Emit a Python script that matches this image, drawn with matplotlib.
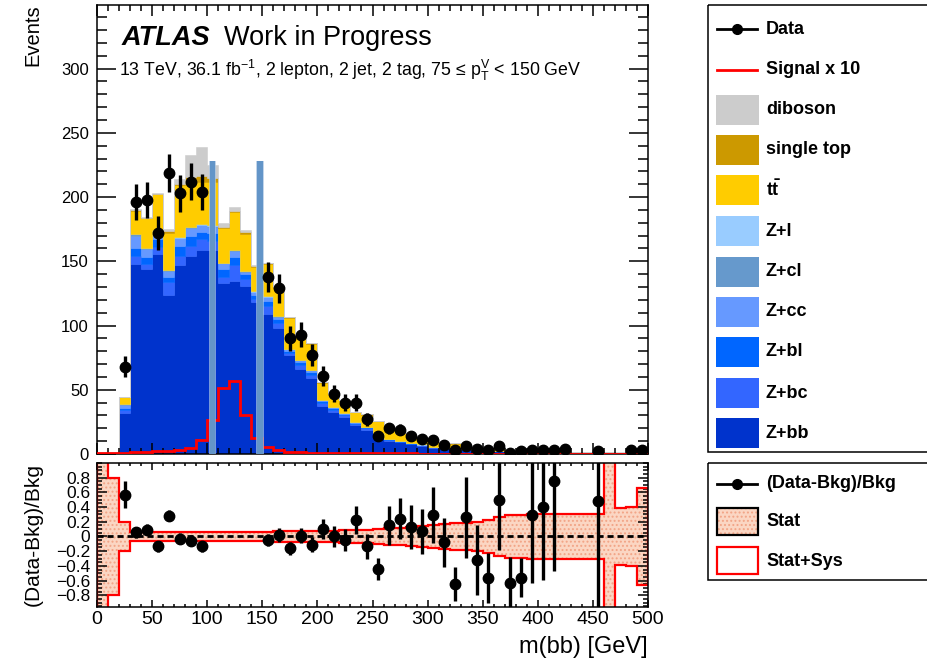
import numpy as np
import matplotlib
matplotlib.use("Agg")
import matplotlib.pyplot as plt
from matplotlib.patches import Rectangle
from matplotlib.ticker import MultipleLocator, FixedLocator, FuncFormatter

plt.rcParams['font.family'] = ['Liberation Sans', 'DejaVu Sans']
plt.rcParams['mathtext.fontset'] = 'custom'
plt.rcParams['mathtext.rm'] = 'Liberation Sans'
plt.rcParams['mathtext.bf'] = 'Liberation Sans:bold'
plt.rcParams['mathtext.it'] = 'Liberation Sans:italic'
plt.rcParams['hatch.linewidth'] = 0.9

nan = np.nan

# m(bb) binning: 10 GeV bins from 0 to 500 GeV
edges = np.arange(0, 501, 10)
centers = edges[:-1] + 5

# observed events per bin (blinded 100-150 GeV)
data = [nan, nan, 68, 196, 198, 172, 219, 203, 212, 204,
        nan, nan, nan, nan, nan, 138, 129, 90, 93, 77,
        61, 47, 40, 40, 27, 14, 20, 19, 14, 12,
        11, 7, 3, 6, 4, 3, 6, 1, 2, 3,
        3, 3, 4, nan, nan, 2, nan, nan, 3, 3]

# background predictions, stacked bottom to top
zbb = [0, 0.5, 32, 148, 144, 156, 124, 147, 154, 159,
       159, 133, 135, 131, 118, 109, 98, 77, 66, 59,
       37, 33, 29, 22.5, 19, 14.5, 10.5, 9, 7.5, 6.5,
       5, 4.5, 4, 3.3, 3, 2.6, 2.3, 1.6, 1.4, 1.3,
       1.2, 1.0, 0.9, 0.8, 0.7, 0.6, 0.5, 0.5, 0.4, 0.4]
zbc = [0, 0, 2, 6.5, 4, 5, 9.5, 7, 8, 8,
       7, 5, 12, 5, 3, 6, 4, 2, 3, 2.5,
       2.5, 1.5, 1.3, 1, 1, 0.8, 0.6, 0.5, 0.4, 0.3,
       0.3, 0.2, 0.2, 0.2, 0.2, 0.15, 0.15, 0.1, 0.1, 0.1,
       0.1, 0.1, 0.05, 0.05, 0.05, 0.05, 0.05, 0.05, 0.05, 0.05]
zbl = [0, 0, 2, 5.5, 5, 6, 4, 8, 8, 6,
       6, 6, 6, 4, 3, 4, 3, 1.5, 2.5, 2,
       1.5, 1, 1, 0.8, 0.7, 0.5, 0.4, 0.4, 0.3, 0.3,
       0.2, 0.2, 0.2, 0.1, 0.1, 0.1, 0.1, 0.1, 0.05, 0.05,
       0.05, 0.05, 0.05, 0.05, 0.05, 0.05, 0.05, 0.05, 0.05, 0.05]
zcc = [0, 0, 2.5, 10, 6.5, 6, 5, 6, 6, 5,
       5, 4.5, 5, 2, 2, 3, 2, 1, 1.5, 1.5,
       1, 0.8, 0.6, 0.5, 0.5, 0.4, 0.3, 0.3, 0.2, 0.2,
       0.2, 0.1, 0.1, 0.1, 0.1, 0.1, 0.05, 0.05, 0.05, 0.05,
       0.05, 0.05, 0.05, 0.05, 0.05, 0.05, 0.05, 0.05, 0.05, 0.05]
zcl = [0, 0, 0.3, 1, 0.5, 0.5, 0.5, 0.5, 0.5, 0.5,
       0.5, 0.3, 0.5, 0.3, 0.3, 0.5, 0.3, 0.3, 0.3, 0.3,
       0.2, 0.2, 0.2, 0.1, 0.1, 0.1, 0.1, 0.1, 0.05, 0.05,
       0.05, 0.05, 0.05, 0.05, 0.05, 0.05, 0.05, 0, 0, 0,
       0, 0, 0, 0, 0, 0, 0, 0, 0, 0]
zl = [0, 0, 0.2, 0.5, 0.5, 0.5, 0.3, 0.5, 0.5, 0.5,
      0.5, 0.2, 0.5, 0.2, 0.2, 0.3, 0.2, 0.2, 0.2, 0.2,
      0.1, 0.1, 0.1, 0.1, 0.05, 0.05, 0.05, 0.05, 0.05, 0.05,
      0, 0, 0, 0, 0, 0, 0, 0, 0, 0,
      0, 0, 0, 0, 0, 0, 0, 0, 0, 0]
ttbar = [0, 0, 5, 18, 23, 28, 29, 40, 37, 33,
         34, 27, 29, 29, 19, 25, 22, 24, 18, 20,
         13, 10, 9.3, 7.6, 9.2, 9, 7, 6, 5, 4.5,
         3.5, 3, 3.5, 2.5, 2.3, 2.5, 2.5, 1.4, 1.3, 1.1,
         1.0, 0.9, 0.8, 0.7, 0.6, 0.6, 0.5, 0.4, 0.4, 0.3]
single_top = [0, 0, 0.3, 0.5, 0.5, 0.5, 1, 1, 2, 4.5,
              3, 1, 1, 1, 1, 0.7, 0.5, 0.5, 0.5, 0.7,
              0.4, 0.3, 0.4, 0.3, 0.3, 0.4, 0.3, 0.3, 0.3, 0.3,
              0.2, 0.2, 0.3, 0.2, 0.2, 0.2, 0.2, 0.1, 0.1, 0.1,
              0.1, 0.1, 0.1, 0.1, 0.1, 0.1, 0.1, 0.1, 0.1, 0.1]
diboson = [0, 0, 0.2, 0.5, 0.5, 0.5, 1.5, 4, 17, 22.5,
           10, 3, 3, 1.5, 1, 0.5, 0.5, 0.5, 0.3, 0.3,
           0.3, 0.2, 0.2, 0.1, 0.1, 0.2, 0.1, 0.1, 0.1, 0.1,
           0.05, 0.05, 0.05, 0.05, 0.05, 0.05, 0.05, 0.05, 0.05, 0.05,
           0.05, 0.05, 0.05, 0.05, 0.05, 0.05, 0.05, 0.05, 0.05, 0.05]

# signal scaled by 10
signal_x10 = [0.4, 0.5, 0.7, 1.2, 1.5, 2.0, 2.3, 3.0, 4.9, 11,
              26.5, 51, 56.5, 30.5, 12.2, 5.7, 3.0, 1.8, 1.3, 1.0,
              0.9, 0.8, 0.7, 0.6, 0.5, 0.5, 0.4, 0.4, 0.4, 0.3,
              0.3, 0.3, 0.3, 0.3, 0.3, 0.3, 0.3, 0.3, 0.3, 0.3,
              0.3, 0.3, 0.3, 0.3, 0.3, 0.3, 0.3, 0.3, 0.3, 0.3]

# mass-window markers
window_edges = [104.7, 147.9]
window_height = 228

# (Data-Bkg)/Bkg and its uncertainty
ratio = [nan, nan, 0.57, 0.06, 0.09, -0.13, 0.28, -0.03, -0.06, -0.13,
         nan, nan, nan, nan, nan, -0.05, 0.02, -0.16, 0.01, -0.11,
         0.10, 0.00, -0.05, 0.22, -0.13, -0.44, 0.15, 0.24, 0.13, 0.07,
         0.29, -0.08, -0.65, 0.26, -0.32, -0.57, 0.49, -0.63, -0.56, 0.29,
         0.40, 0.76, nan, nan, nan, 0.48, nan, nan, nan, nan]
ratio_err = [0, 0, 0.18, 0.075, 0.075, 0.075, 0.075, 0.075, 0.075, 0.075,
             0, 0, 0, 0, 0, 0.085, 0.09, 0.09, 0.105, 0.10,
             0.14, 0.146, 0.15, 0.19, 0.17, 0.15, 0.26, 0.28, 0.30, 0.31,
             0.38, 0.33, 0.23, 0.55, 0.47, 0.34, 0.68, 0.35, 0.27, 0.92,
             0.99, 1.23, 0, 0, 0, 1.5, 0, 0, 0, 0]

# relative background uncertainty bands
band_stat = [1.5, 0.80, 0.20, 0.06, 0.06, 0.06, 0.06, 0.06, 0.06, 0.06,
             0.06, 0.06, 0.06, 0.06, 0.06, 0.065, 0.07, 0.07, 0.07, 0.075,
             0.08, 0.08, 0.085, 0.09, 0.09, 0.10, 0.11, 0.12, 0.13, 0.14,
             0.16, 0.17, 0.18, 0.18, 0.20, 0.22, 0.26, 0.29, 0.29, 0.30,
             0.31, 0.31, 0.31, 0.31, 0.31, 0.31, 1.5, 0.39, 0.40, 0.66]
band_total = [1.5, 0.80, 0.20, 0.06, 0.06, 0.06, 0.06, 0.06, 0.06, 0.06,
              0.06, 0.06, 0.06, 0.06, 0.06, 0.065, 0.07, 0.07, 0.07, 0.075,
              0.08, 0.08, 0.085, 0.09, 0.09, 0.10, 0.11, 0.12, 0.13, 0.14,
              0.16, 0.17, 0.18, 0.18, 0.20, 0.22, 0.26, 0.29, 0.29, 0.30,
              0.31, 0.31, 0.31, 0.31, 0.31, 0.31, 1.5, 0.39, 0.40, 0.66]

stack = [
    ("Z+bb", zbb, "#0033cc"),
    ("Z+bc", zbc, "#3366ff"),
    ("Z+bl", zbl, "#0066ff"),
    ("Z+cc", zcc, "#6699ff"),
    ("Z+cl", zcl, "#6699cc"),
    ("Z+l", zl, "#99ccff"),
    (r"t$\mathbf{\bar{t}}$", ttbar, "#ffcc00"),
    ("single top", single_top, "#cc9900"),
    ("diboson", diboson, "#cccccc"),
]

W, H = 927, 660
fig = plt.figure(figsize=(W / 100, H / 100), dpi=100)


def px_box(left, top, right, bottom):
    return [left / W, 1 - bottom / H, (right - left) / W, (bottom - top) / H]


ax = fig.add_axes(px_box(97, 5, 648, 454))
rax = fig.add_axes(px_box(97, 463, 648, 607))

# ---- main panel ----
base = np.zeros(len(centers))
for name, vals, col in stack:
    top = base + np.asarray(vals, dtype=float)
    ax.stairs(top, edges, baseline=base, fill=True, facecolor=col,
              edgecolor=col, linewidth=0.4, zorder=1)
    base = top

ax.stairs(signal_x10, edges, color="#ff0000", linewidth=2.0, zorder=3)

ax.bar(window_edges, window_height, width=7.0, color="#a8c4e2", alpha=0.7,
       linewidth=0, zorder=4)
ax.bar(window_edges, window_height, width=4.6, color="#6395c8",
       linewidth=0, zorder=4)

data_arr = np.asarray(data, dtype=float)
ax.errorbar(centers, data_arr, yerr=np.sqrt(data_arr), fmt="o", ms=7.5,
            color="black", ecolor="black", elinewidth=2.4, capsize=0, zorder=5)

ax.set_xlim(0, 500)
ax.set_ylim(0, 349.5)
ax.xaxis.set_major_locator(MultipleLocator(50))
ax.xaxis.set_minor_locator(MultipleLocator(10))
ax.yaxis.set_major_locator(MultipleLocator(50))
ax.yaxis.set_minor_locator(MultipleLocator(10))
ax.tick_params(axis="x", which="both", direction="in", top=True, bottom=True,
               labelbottom=False, width=1.1)
ax.tick_params(axis="x", which="major", length=8)
ax.tick_params(axis="x", which="minor", length=4)
ax.tick_params(axis="y", which="both", direction="in", left=True, right=True,
               width=1.1, labelsize=12, pad=6)
ax.tick_params(axis="y", which="major", length=14)
ax.tick_params(axis="y", which="minor", length=7)
for s in ax.spines.values():
    s.set_linewidth(1.1)

ax.text(0.045, 0.912, "ATLAS", transform=ax.transAxes, fontsize=19.5,
        fontweight="bold", fontstyle="italic", va="baseline")
ax.text(0.231, 0.912, "Work in Progress", transform=ax.transAxes,
        fontsize=19.5, va="baseline")
ax.text(0.040, 0.842,
        r"13 TeV, 36.1 fb$^{\mathregular{-1}}$, 2 lepton, 2 jet, 2 tag, "
        r"75 ≤ p$_{\mathregular{T}}^{\mathregular{V}}$ < 150 GeV",
        transform=ax.transAxes, fontsize=12.8, va="baseline")

# ---- ratio panel ----
band_stat_arr = np.asarray(band_stat)
band_total_arr = np.asarray(band_total)
rax.stairs(band_stat_arr, edges, baseline=-band_stat_arr, fill=True,
           facecolor="#fbd6c3", edgecolor="#f2a486", hatch="....",
           linewidth=0, zorder=1)
rax.stairs(band_total_arr, edges, color="#ff0000", linewidth=1.6, zorder=2)
rax.stairs(-band_total_arr, edges, color="#ff0000", linewidth=1.6, zorder=2)
rax.axhline(0, color="black", linewidth=2.0, linestyle=(0, (2.2, 1.4)), zorder=3)
rax.errorbar(centers, ratio, yerr=ratio_err, fmt="o", ms=7.5, color="black",
             ecolor="black", elinewidth=2.4, capsize=0, zorder=5)

rax.set_xlim(0, 500)
rax.set_ylim(-0.96, 1.0)
rax.xaxis.set_major_locator(MultipleLocator(50))
rax.xaxis.set_minor_locator(MultipleLocator(10))
rax.yaxis.set_major_locator(FixedLocator([-0.8, -0.6, -0.4, -0.2, 0, 0.2, 0.4, 0.6, 0.8]))
rax.yaxis.set_minor_locator(MultipleLocator(0.05))
rax.yaxis.set_major_formatter(FuncFormatter(lambda v, p: ("%g" % round(v, 2)).replace("-", "\u2212")))
rax.tick_params(axis="x", which="both", direction="in", top=True, bottom=True,
                width=1.1, labelsize=14, pad=3)
rax.tick_params(axis="x", which="major", length=5)
rax.tick_params(axis="x", which="minor", length=2.5)
rax.tick_params(axis="y", which="both", direction="in", left=True, right=True,
                width=1.1, labelsize=12.5, pad=5)
rax.tick_params(axis="y", which="major", length=7)
rax.tick_params(axis="y", which="minor", length=3.6)
for s in rax.spines.values():
    s.set_linewidth(1.1)

# axis titles
fig.text(33 / W, 1 - 4 / H, "Events", rotation=90, ha="center", va="top", fontsize=14.5)
fig.text(33 / W, 1 - 463 / H, "(Data-Bkg)/Bkg", rotation=90, ha="center",
         va="top", fontsize=15)
fig.text(648 / W, 1 - 647 / H, "m(bb) [GeV]", ha="right", va="center", fontsize=17)

# ---- legends ----
lg = fig.add_axes([0, 0, 1, 1])
lg.set_xlim(0, W)
lg.set_ylim(H, 0)
lg.axis("off")

lg.add_patch(Rectangle((708, 5), 260, 447, fill=False, edgecolor="black", linewidth=1.1))
rows = [29, 70, 110, 150, 190, 231, 272, 312, 352, 393, 433]
lg.plot([717, 757], [rows[0], rows[0]], color="black", linewidth=2)
lg.plot([737], [rows[0]], "o", color="black", ms=7)
lg.text(766, rows[0], "Data", fontsize=13, fontweight="bold", va="center")
lg.plot([717, 757], [rows[1], rows[1]], color="#ff0000", linewidth=2)
lg.text(766, rows[1], "Signal x 10", fontsize=13, fontweight="bold", va="center")
for y, (name, vals, col) in zip(rows[2:], reversed(stack)):
    lg.add_patch(Rectangle((716, y - 15), 43, 30, facecolor=col, edgecolor="none"))
    lg.text(766, y, name, fontsize=13, fontweight="bold", va="center")

lg.add_patch(Rectangle((708, 463), 260, 117, fill=False, edgecolor="black", linewidth=1.1))
lg.plot([717, 757], [484, 484], color="black", linewidth=2)
lg.plot([737], [484], "o", color="black", ms=7)
lg.text(766, 484, "(Data-Bkg)/Bkg", fontsize=13, fontweight="bold", va="center")
lg.add_patch(Rectangle((717, 508), 41, 27, facecolor="#fbd6c3", edgecolor="#f2a486",
                       hatch="....", linewidth=0))
lg.add_patch(Rectangle((717, 508), 41, 27, fill=False, edgecolor="black", linewidth=1.6))
lg.text(766, 522, "Stat", fontsize=13, fontweight="bold", va="center")
lg.add_patch(Rectangle((717, 547), 41, 27, facecolor="white", edgecolor="#ff0000", linewidth=1.6))
lg.text(766, 561, "Stat+Sys", fontsize=13, fontweight="bold", va="center")

fig.savefig("out.png", dpi=100)
